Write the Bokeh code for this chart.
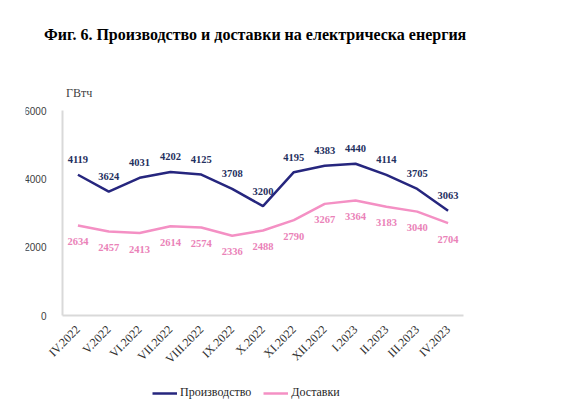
from bokeh.plotting import figure
from bokeh.models import (Range1d, ColumnDataSource, Legend, LegendItem,
                          FixedTicker, LabelSet, Div)
from bokeh.layouts import column
from bokeh.core.properties import value
from bokeh.embed import file_html
from bokeh.resources import INLINE
import math

months = ["IV.2022", "V.2022", "VI.2022", "VII.2022", "VIII.2022", "IX.2022", "X.2022",
          "XI.2022", "XII.2022", "I.2023", "II.2023", "III.2023", "IV.2023"]
production = [4119, 3624, 4031, 4202, 4125, 3708, 3200, 4195, 4383, 4440, 4114, 3705, 3063]
deliveries = [2634, 2457, 2413, 2614, 2574, 2336, 2488, 2790, 3267, 3364, 3183, 3040, 2704]
y_ticks = [0, 2000, 4000, 6000]

title_text = "Фиг. 6. Производство и доставки на електрическа енергия"
unit_text = "ГВтч"
series_names = ["Производство", "Доставки"]

NAVY = "#26267e"
PINK = "#f490c4"
NAVY_TXT = "#1f3060"
PINK_TXT = "#ea82b8"
SERIF = "Liberation Serif"

# layout constants (pixels)
HEAD_H = 100
FIG_W, FIG_H = 548, 300
LEFT, RIGHT = 25, 28
AXIS_X0, AXIS_X1 = 62, 463          # left / right ends of the category axis (page px)
AXIS_TOP = 110                      # page px of the 6000 tick
ZERO_FROM_BOTTOM = 85               # px between the y=0 line and the frame bottom
PX_PER_6000 = 205                   # px between 0 and 6000

n = len(months)
idx = list(range(n))
step = (AXIS_X1 - AXIS_X0) / n
x_start = -0.5 - (AXIS_X0 - LEFT) / step
x_end = n - 0.5 + ((FIG_W - RIGHT) - AXIS_X1) / step
y_min = -ZERO_FROM_BOTTOM * y_ticks[-1] / PX_PER_6000
y_max = y_ticks[-1] + (AXIS_TOP - HEAD_H) * y_ticks[-1] / PX_PER_6000

head = Div(
    text=(f'<div style="padding:25px 0 0 44px;line-height:20px;'
          f'font-family:\'{SERIF}\';font-weight:bold;font-size:16px;color:#000;white-space:nowrap">{title_text}</div>'
          f'<div style="padding:0 0 0 66px;margin-top:41px;line-height:14px;'
          f'font-family:\'{SERIF}\';font-size:12px;color:#404040">{unit_text}</div>'),
    width=FIG_W, height=HEAD_H, margin=0)

src = ColumnDataSource(dict(
    x=idx, prod=production, deliv=deliveries,
    prod_lbl=[str(v) for v in production],
    deliv_lbl=[str(v) for v in deliveries],
))

p = figure(width=FIG_W, height=FIG_H, x_range=Range1d(x_start, x_end),
           y_range=Range1d(y_min, y_max), output_backend="svg", toolbar_location=None,
           min_border_left=LEFT, min_border_right=RIGHT, min_border_top=0, min_border_bottom=0,
           margin=0)
p.outline_line_color = None
p.xgrid.visible = False
p.ygrid.visible = False
p.background_fill_color = "white"
p.border_fill_color = "white"

p.yaxis.fixed_location = -0.5
p.yaxis.ticker = FixedTicker(ticks=y_ticks)
p.yaxis.bounds = (y_ticks[0], y_ticks[-1])
p.yaxis.major_tick_line_color = None
p.yaxis.minor_tick_line_color = None
p.yaxis.axis_line_color = "#d9d9d9"
p.yaxis.axis_line_width = 2
p.yaxis.major_label_text_font = "Liberation Sans"
p.yaxis.major_label_text_font_size = "10px"
p.yaxis.major_label_text_color = "#404040"
p.yaxis.major_label_standoff = 10

p.xaxis.fixed_location = 0
p.xaxis.ticker = FixedTicker(ticks=idx)
p.xaxis.major_label_overrides = {i: m for i, m in zip(idx, months)}
p.xaxis.bounds = (-0.5, n - 0.5)
p.xaxis.major_tick_line_color = None
p.xaxis.minor_tick_line_color = None
p.xaxis.axis_line_color = "#d9d9d9"
p.xaxis.axis_line_width = 2
p.xaxis.major_label_orientation = math.pi / 4
p.xaxis.major_label_text_font = SERIF
p.xaxis.major_label_text_font_size = "12px"
p.xaxis.major_label_text_color = "#303030"
p.xaxis.major_label_standoff = 6

r1 = p.line("x", "prod", source=src, line_color=NAVY, line_width=2.5)
r2 = p.line("x", "deliv", source=src, line_color=PINK, line_width=2.5)

p.add_layout(LabelSet(x="x", y="prod", text="prod_lbl", source=src, y_offset=15,
                      text_align="center", text_baseline="middle", text_font=value(SERIF),
                      text_font_style="bold", text_font_size="10.5px", text_color=NAVY_TXT))
p.add_layout(LabelSet(x="x", y="deliv", text="deliv_lbl", source=src, y_offset=-16,
                      text_align="center", text_baseline="middle", text_font=value(SERIF),
                      text_font_style="bold", text_font_size="10.5px", text_color=PINK_TXT))

legend = Legend(items=[LegendItem(label=series_names[0], renderers=[r1]),
                       LegendItem(label=series_names[1], renderers=[r2])],
                orientation="horizontal", location=(152 - LEFT, 0),
                label_text_font=SERIF, label_text_font_size="12px", label_text_color="#262626",
                glyph_width=25, glyph_height=10, spacing=12, label_standoff=3,
                border_line_color=None, background_fill_alpha=0, padding=0, margin=0)
p.add_layout(legend, "center")

layout = column(head, p, spacing=0, margin=0)
open("out.html", "w").write(file_html(layout, INLINE))
